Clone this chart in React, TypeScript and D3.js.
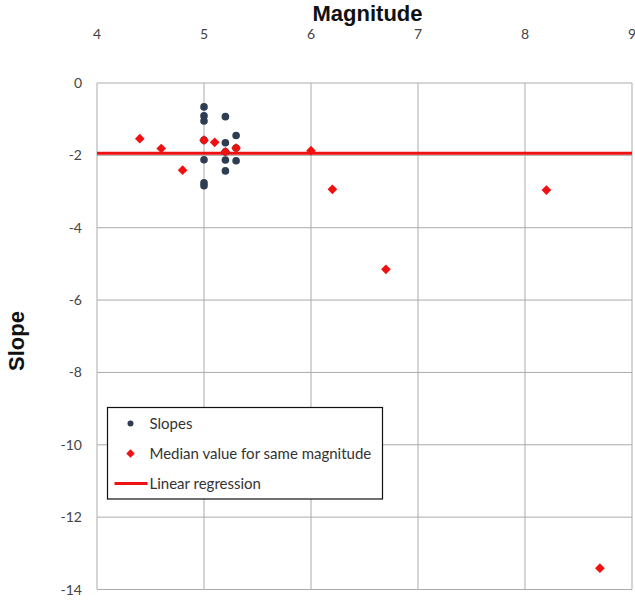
import { useEffect, useRef } from 'react';
import * as d3 from 'd3';

// Slopes (dark dots)
const slopeMag = [5, 5, 5, 5, 5, 5, 5, 5.2, 5.2, 5.2, 5.2, 5.2, 5.3, 5.3, 5.3];
const slopeVal = [-0.66, -0.91, -1.05, -1.58, -2.12, -2.76, -2.84, -0.93, -1.65, -1.9, -2.13, -2.43, -1.45, -1.8, -2.15];

// Median value for same magnitude (red diamonds)
const medianMag = [4.4, 4.6, 4.8, 5.0, 5.1, 5.2, 5.3, 6.0, 6.2, 6.7, 8.2, 8.7];
const medianVal = [-1.54, -1.81, -2.41, -1.58, -1.64, -1.9, -1.8, -1.87, -2.94, -5.15, -2.96, -13.41];

// Linear regression
const regMag = [4, 9];
const regVal = [-1.94, -1.94];

const xTicks = [4, 5, 6, 7, 8, 9];
const yTicks = [0, -2, -4, -6, -8, -10, -12, -14];

const legendItems = ['Slopes', 'Median value for same magnitude', 'Linear regression'];

const W = 635;
const H = 602;

export default function App() {
  const svgRef = useRef<SVGSVGElement>(null);

  useEffect(() => {
    document.body.style.margin = '0';
    if (!svgRef.current) return;
    const svg = d3.select(svgRef.current);
    svg.selectAll('*').remove();

    const margin = { top: 83, right: 3, bottom: 12.5, left: 97 };
    const width = W - margin.left - margin.right;
    const height = H - margin.top - margin.bottom;

    const x = d3.scaleLinear().domain([4, 9]).range([0, width]);
    const y = d3.scaleLinear().domain([0, -14]).range([0, height]);

    const g = svg.append('g').attr('transform', `translate(${margin.left},${margin.top})`);

    const gridColor = '#ababab';
    const labelFont = 'Lato, "Open Sans", sans-serif';

    // Grid
    g.append('g')
      .selectAll('line')
      .data(xTicks)
      .join('line')
      .attr('x1', d => x(d))
      .attr('x2', d => x(d))
      .attr('y1', 0)
      .attr('y2', height)
      .attr('stroke', gridColor)
      .attr('stroke-width', 1);

    g.append('g')
      .selectAll('line')
      .data(yTicks)
      .join('line')
      .attr('x1', 0)
      .attr('x2', width)
      .attr('y1', d => y(d))
      .attr('y2', d => y(d))
      .attr('stroke', gridColor)
      .attr('stroke-width', 1);

    // Tick labels
    g.append('g')
      .selectAll('text')
      .data(xTicks)
      .join('text')
      .attr('x', d => x(d))
      .attr('y', -44)
      .attr('text-anchor', 'middle')
      .style('font-family', labelFont)
      .style('font-size', '14px')
      .style('fill', '#444')
      .text(d => d);

    g.append('g')
      .selectAll('text')
      .data(yTicks)
      .join('text')
      .attr('x', -15)
      .attr('y', d => y(d) + 5)
      .attr('text-anchor', 'end')
      .style('font-family', labelFont)
      .style('font-size', '14px')
      .style('fill', '#444')
      .text(d => d);

    // Regression line
    const line = d3.line<number>()
      .x((_, i) => x(regMag[i]))
      .y(d => y(d));
    g.append('path')
      .datum(regVal)
      .attr('d', line)
      .attr('fill', 'none')
      .attr('stroke', '#ee1111')
      .attr('stroke-width', 3);

    // Slopes
    g.append('g')
      .selectAll('circle')
      .data(slopeVal)
      .join('circle')
      .attr('cx', (_, i) => x(slopeMag[i]))
      .attr('cy', d => y(d))
      .attr('r', 3.8)
      .attr('fill', '#2f3d52');

    // Medians
    const diamond = d3.symbol().type(d3.symbolDiamond2).size(60);
    g.append('g')
      .selectAll('path')
      .data(medianVal)
      .join('path')
      .attr('transform', (d, i) => `translate(${x(medianMag[i])},${y(d)})`)
      .attr('d', diamond)
      .attr('fill', '#f01010');

    // Titles
    svg.append('text')
      .attr('x', margin.left + width / 2 + 3)
      .attr('y', 21)
      .attr('text-anchor', 'middle')
      .style('font-family', '"Liberation Sans", Arial, sans-serif')
      .style('font-weight', 'bold')
      .style('font-size', '22px')
      .style('fill', '#111')
      .text('Magnitude');

    svg.append('text')
      .attr('transform', `translate(24,341) rotate(-90)`)
      .attr('text-anchor', 'middle')
      .style('font-family', '"Liberation Sans", Arial, sans-serif')
      .style('font-weight', 'bold')
      .style('font-size', '22px')
      .style('fill', '#111')
      .text('Slope');

    // Legend
    const lg = svg.append('g').attr('transform', 'translate(107.5,407.5)');
    lg.append('rect')
      .attr('width', 275)
      .attr('height', 91.5)
      .attr('fill', '#fff')
      .attr('stroke', '#111')
      .attr('stroke-width', 1.2);

    const rowY = [16, 46, 76];
    legendItems.forEach((label, i) => {
      const cy = rowY[i];
      if (i === 0) {
        lg.append('circle').attr('cx', 23).attr('cy', cy).attr('r', 3).attr('fill', '#2f3d52');
      } else if (i === 1) {
        lg.append('path')
          .attr('transform', `translate(23,${cy})`)
          .attr('d', d3.symbol().type(d3.symbolDiamond2).size(45)())
          .attr('fill', '#f01010');
      } else {
        lg.append('line')
          .attr('x1', 7).attr('x2', 40)
          .attr('y1', cy).attr('y2', cy)
          .attr('stroke', '#ee1111').attr('stroke-width', 3);
      }
      lg.append('text')
        .attr('x', 42)
        .attr('y', cy + 5)
        .style('font-family', labelFont)
        .style('font-size', '15px')
        .style('fill', '#333')
        .text(label);
    });
  }, []);

  return <svg ref={svgRef} width={W} height={H} style={{ display: 'block', background: '#fff' }} />;
}
